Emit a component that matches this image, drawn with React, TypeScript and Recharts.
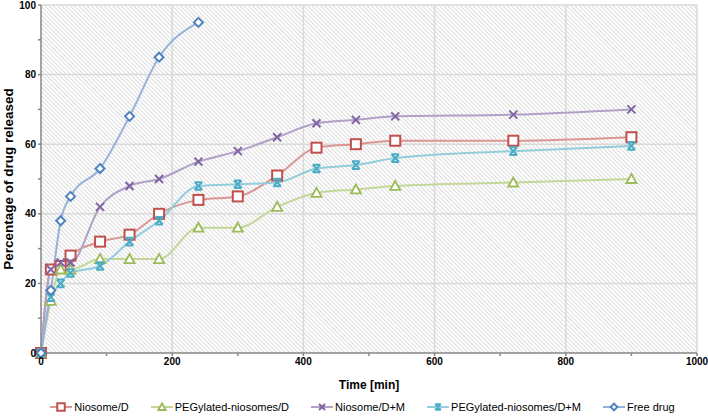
import { LineChart, Line, XAxis, YAxis, CartesianGrid, Legend, Label } from 'recharts';

const TIME = [0, 15, 30, 45, 90, 135, 180, 240, 300, 360, 420, 480, 540, 720, 900];
const NIOSOME_D = [0, 24, 25, 28, 32, 34, 40, 44, 45, 51, 59, 60, 61, 61, 62];
const PEG_NIOSOMES_D = [0, 15, 24, 24, 27, 27, 27, 36, 36, 42, 46, 47, 48, 49, 50];
const NIOSOME_DM = [0, 24, 26, 26, 42, 48, 50, 55, 58, 62, 66, 67, 68, 68.5, 70];
const PEG_NIOSOMES_DM = [0, 16, 20, 23, 25, 32, 38, 48, 48.5, 49, 53, 54, 56, 58, 59.5];
const FREE_DRUG = [0, 18, 38, 45, 53, 68, 85, 95];

const X_TICKS = [0, 100, 200, 300, 400, 500, 600, 700, 800, 900, 1000];
const Y_TICKS = [0, 10, 20, 30, 40, 50, 60, 70, 80, 90, 100];
const X_GRID = [200, 400, 600, 800, 1000];
const Y_GRID = [20, 40, 60, 80, 100];

const data = TIME.map((t, i) => ({
  time: t,
  nd: NIOSOME_D[i],
  pd: PEG_NIOSOMES_D[i],
  ndm: NIOSOME_DM[i],
  pdm: PEG_NIOSOMES_DM[i],
  free: FREE_DRUG[i],
}));

const series = [
  { key: 'nd', name: 'Niosome/D', color: '#C0504D', line: '#DA9694', shape: 'square' },
  { key: 'pd', name: 'PEGylated-niosomes/D', color: '#9BBB59', line: '#C4D79B', shape: 'triangle' },
  { key: 'ndm', name: 'Niosome/D+M', color: '#8064A2', line: '#B1A0C7', shape: 'x' },
  { key: 'pdm', name: 'PEGylated-niosomes/D+M', color: '#4BACC6', line: '#92CDDC', shape: 'star' },
  { key: 'free', name: 'Free drug', color: '#4F81BD', line: '#95B3D7', shape: 'diamond' },
];

const FONT = '"Liberation Sans", Arial, sans-serif';

function Marker({ cx, cy, shape, color, scale = 1 }: any) {
  if (cx == null || cy == null || isNaN(cx) || isNaN(cy)) return null;
  const s = scale;
  if (shape === 'square') {
    const h = 5 * s;
    return <rect x={cx - h} y={cy - h} width={2 * h} height={2 * h} fill="#fff" stroke={color} strokeWidth={2} />;
  }
  if (shape === 'triangle') {
    const h = 5 * s;
    return (
      <polygon
        points={`${cx},${cy - h} ${cx + h},${cy + h * 0.8} ${cx - h},${cy + h * 0.8}`}
        fill="#fff"
        stroke={color}
        strokeWidth={1.8}
      />
    );
  }
  if (shape === 'x') {
    const h = 4 * s;
    return (
      <path d={`M${cx - h},${cy - h}L${cx + h},${cy + h}M${cx - h},${cy + h}L${cx + h},${cy - h}`} stroke={color} strokeWidth={2} />
    );
  }
  if (shape === 'star') {
    const h = 3.8 * s;
    return (
      <path
        d={`M${cx - h},${cy - h}L${cx + h},${cy + h}M${cx - h},${cy + h}L${cx + h},${cy - h}M${cx - h},${cy - h}L${cx + h},${cy - h}M${cx - h},${cy + h}L${cx + h},${cy + h}`}
        stroke={color}
        strokeWidth={2}
      />
    );
  }
  const h = 4.5 * s;
  return (
    <polygon
      points={`${cx},${cy - h} ${cx + h},${cy} ${cx},${cy + h} ${cx - h},${cy}`}
      fill="#fff"
      stroke={color}
      strokeWidth={2}
    />
  );
}

function LegendContent() {
  return (
    <div
      style={{
        display: 'flex',
        justifyContent: 'center',
        gap: 22,
        height: 23,
        boxSizing: 'border-box',
        paddingTop: 5,
        paddingLeft: 28,
        alignItems: 'center',
        fontFamily: FONT,
        fontSize: 11,
        color: '#000',
      }}
    >
      {series.map((s) => (
        <div key={s.key} style={{ display: 'flex', alignItems: 'center' }}>
          <svg width={22} height={12} style={{ marginRight: 2 }}>
            <line x1={0} y1={6} x2={22} y2={6} stroke={s.line} strokeWidth={2} />
            <Marker cx={11} cy={6} shape={s.shape} color={s.color} scale={0.75} />
          </svg>
          <span>{s.name}</span>
        </div>
      ))}
    </div>
  );
}

export default function App() {
  return (
    <div style={{ position: 'absolute', left: 0, top: 0, background: '#fff' }}>
      <LineChart width={708} height={416} data={data} margin={{ top: 5, right: 11, bottom: 0, left: 0 }}>
        <defs>
          <pattern id="hatch" patternUnits="userSpaceOnUse" width={3} height={3} patternTransform="rotate(-45)">
            <rect width={3} height={3} fill="#ffffff" />
            <line x1={0} y1={0} x2={0} y2={3} stroke="#c8c8c8" strokeWidth={1.3} />
          </pattern>
        </defs>
        <CartesianGrid
          fill="url(#hatch)"
          stroke="#d9d9d9"
          strokeWidth={1.5}
          verticalValues={X_GRID}
          horizontalValues={Y_GRID}
        />
        <XAxis
          type="number"
          dataKey="time"
          domain={[0, 1000]}
          ticks={X_TICKS}
          interval={0}
          tickFormatter={(v: number) => (v % 200 === 0 ? String(v) : '')}
          tick={{ fontSize: 10, fontWeight: 'bold', fill: '#000', fontFamily: FONT }}
          tickSize={3}
          axisLine={{ stroke: '#868686', strokeWidth: 1.5 }}
          tickLine={{ stroke: '#868686', strokeWidth: 1.5 }}
          height={40}
        >
          <Label
            value="Time [min]"
            position="insideBottom"
            offset={4}
            style={{ fontSize: 12, fontWeight: 'bold', fill: '#000', fontFamily: FONT }}
          />
        </XAxis>
        <YAxis
          type="number"
          domain={[0, 100]}
          ticks={Y_TICKS}
          interval={0}
          tickFormatter={(v: number) => (v % 20 === 0 ? String(v) : '')}
          tick={{ fontSize: 10, fontWeight: 'bold', fill: '#000', fontFamily: FONT }}
          tickSize={3}
          axisLine={{ stroke: '#868686', strokeWidth: 1.5 }}
          tickLine={{ stroke: '#868686', strokeWidth: 1.5 }}
          width={41}
        >
          <Label
            content={({ viewBox }: any) => {
              const x = viewBox.x + 8;
              const y = viewBox.y + viewBox.height / 2;
              return (
                <text
                  x={x}
                  y={y}
                  transform={`rotate(-90 ${x} ${y})`}
                  textAnchor="middle"
                  dominantBaseline="central"
                  style={{ fontSize: 13.5, fontWeight: 'bold', fill: '#000', fontFamily: FONT }}
                >
                  Percentage of drug released
                </text>
              );
            }}
          />
        </YAxis>
        <Legend verticalAlign="bottom" content={<LegendContent />} />
        {series.map((s) => (
          <Line
            key={s.key}
            type="monotone"
            dataKey={s.key}
            name={s.name}
            stroke={s.line}
            strokeWidth={2}
            isAnimationActive={false}
            activeDot={false}
            dot={(p: any) => <Marker key={`${s.key}-${p.index}`} cx={p.cx} cy={p.cy} shape={s.shape} color={s.color} />}
          />
        ))}
      </LineChart>
    </div>
  );
}
